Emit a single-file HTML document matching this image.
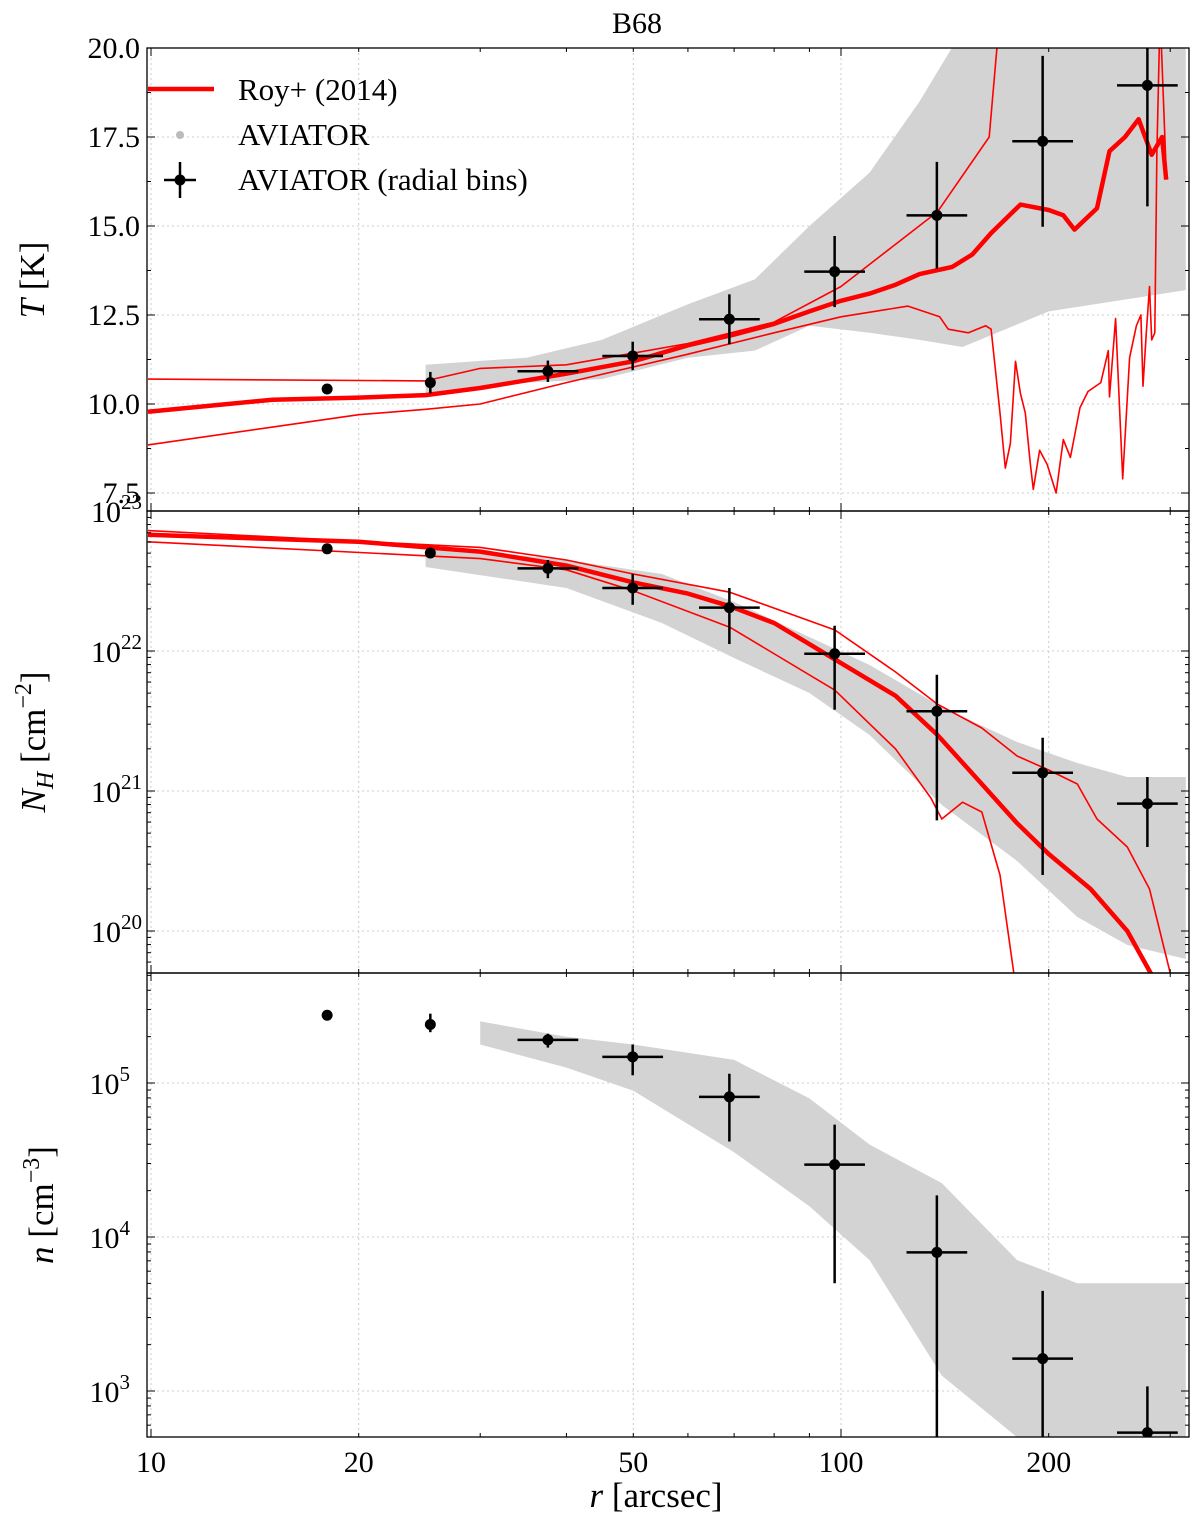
<!DOCTYPE html>
<html><head><meta charset="utf-8"><style>
body{margin:0;background:#fff}
svg text{font-family:"Liberation Serif",serif;fill:#000}
</style></head><body>
<svg id="c" width="1200" height="1524" viewBox="0 0 1200 1524" xmlns="http://www.w3.org/2000/svg">
<defs>
<clipPath id="cT"><rect x="147" y="48" width="1042" height="463"/></clipPath>
<clipPath id="cN"><rect x="147" y="511" width="1042" height="462"/></clipPath>
<clipPath id="cn"><rect x="147" y="973" width="1042" height="464"/></clipPath>
</defs>
<g id="root"></g>
</svg>
<script>
// ---- data ----
const binR=[18,25.4,37.6,49.9,68.9,97.9,137.7,196,278];
const binHasX=[0,0,1,1,1,1,1,1,1];
const binT=[10.42,10.6,10.92,11.35,12.38,13.72,15.3,17.38,18.95];
const binTlo=[10.42,10.3,10.62,10.95,11.68,12.72,13.8,14.98,15.55];
const binThi=[10.42,10.9,11.22,11.75,13.08,14.72,16.8,19.78,22.3];
const binN=[22.73,22.70,22.59,22.45,22.31,21.98,21.57,21.13,20.91];
const binNlo=[22.73,22.70,22.52,22.33,22.05,21.58,20.79,20.4,20.6];
const binNhi=[22.73,22.70,22.65,22.55,22.45,22.18,21.83,21.38,21.1];
const binD=[5.44,5.38,5.28,5.17,4.91,4.47,3.90,3.21,2.73];
const binDlo=[5.44,5.33,5.23,5.05,4.62,3.7,2.6,2.6,2.6];
const binDhi=[5.44,5.45,5.32,5.25,5.06,4.73,4.27,3.65,3.03];
const binXhalf=0.044;

const scR=[25,35,45,60,75,90,110,130,150,200,316];
const scTlo=[10.3,10.6,10.7,11.3,11.5,12.2,12.0,11.8,11.6,12.6,13.2];
const scThi=[11.1,11.3,11.8,12.8,13.5,15.0,16.5,18.5,20.5,20.5,20.5];
const scNR=[25,40,55,70,90,110,140,180,220,260,316];
const scNlo=[22.6,22.45,22.2,21.95,21.7,21.4,20.9,20.5,20.1,19.9,19.8];
const scNhi=[22.75,22.65,22.55,22.35,22.1,21.9,21.6,21.35,21.2,21.1,21.1];
const scDR=[30,40,50,70,90,110,140,180,220,316];
const scDlo=[5.25,5.1,4.95,4.55,4.2,3.85,3.1,2.7,2.6,2.6];
const scDhi=[5.4,5.3,5.25,5.15,4.9,4.6,4.35,3.85,3.7,3.7];

const royTR=[9.9,15,20,25,30,40,50,60,70,80,90,100,110,120,130,145,155,165,182,200,210,218,235,245,258,270,282,292,296];
const royT=[9.78,10.12,10.18,10.25,10.45,10.85,11.2,11.65,11.95,12.25,12.6,12.9,13.1,13.35,13.65,13.85,14.2,14.8,15.6,15.45,15.3,14.9,15.5,17.1,17.5,18.0,17.0,17.5,16.3];
const royTupR=[9.9,25,30,40,60,80,100,138,164,170,290,296];
const royTup=[10.7,10.65,11.0,11.1,11.7,12.3,13.3,15.4,17.5,21,21,16.5];
const royTloR=[9.9,15,20,25,30,40,60,80,100,125,139,143,153,162,165,170,173,176,179,182,185,188,190,194,199,205,210,215,222,228,238,244,245,250,256,262,268,272,274,277,280,282,285,287,290];
const royTlo=[8.85,9.35,9.7,9.85,10.0,10.6,11.4,12.0,12.45,12.75,12.45,12.1,12.0,12.2,12.1,9.75,8.2,8.9,11.2,10.3,9.75,8.35,7.6,8.7,8.3,7.5,9.0,8.5,9.9,10.35,10.6,11.5,10.2,12.4,7.9,11.3,12.2,12.5,10.5,12.0,13.3,11.8,12.0,17.1,21];
const royNR=[9.9,20,30,40,50,60,69,80,98,120,138,160,180,200,230,260,281,290];
const royN=[22.83,22.78,22.71,22.61,22.49,22.41,22.32,22.2,21.94,21.68,21.4,21.05,20.77,20.55,20.3,20.0,19.7,19.4];
const royNupR=[9.9,30,40,50,69,98,120,138,160,180,200,220,235,260,280,300,310];
const royNup=[22.86,22.74,22.65,22.55,22.42,22.15,21.85,21.62,21.45,21.25,21.15,21.05,20.8,20.6,20.3,19.7,19.3];
const royNloR=[9.9,30,40,50,69,98,120,135,140,150,160,170,178,185];
const royNlo=[22.78,22.66,22.58,22.43,22.17,21.72,21.3,20.95,20.8,20.92,20.85,20.4,19.7,19.2];

const tTicks=[7.5,10.0,12.5,15.0,17.5,20.0];
const xMajor=[10,20,50,100,200];

// ---- axes ----
const L=147,R=1189;
const X=r=>151+690*(Math.log10(r)-1);
const YT=v=>48+(20-v)*35.6;
const YN=v=>511+(23-v)*140;
const YD=v=>1083-(v-5)*154;
const NS="http://www.w3.org/2000/svg";
const root=document.getElementById('root');
function el(tag,attrs,parent){const e=document.createElementNS(NS,tag);for(const k in attrs)e.setAttribute(k,attrs[k]);(parent||root).appendChild(e);return e;}
function poly(rs,vs,Y){return rs.map((r,i)=>X(r).toFixed(1)+','+Y(vs[i]).toFixed(1)).join(' ');}

const panels=[{t:48,b:511,Y:YT,clip:'cT',name:'temperature'},{t:511,b:973,Y:YN,clip:'cN',name:'column-density'},{t:973,b:1437,Y:YD,clip:'cn',name:'volume-density'}];

panels.forEach(p=>{
  const g=el('g',{});
  
  
  xMajor.forEach(r=>el('line',{x1:X(r),x2:X(r),y1:p.t,y2:p.b,stroke:'#ccc','stroke-dasharray':'2,3','stroke-width':1},g));
});
tTicks.forEach(v=>el('line',{x1:L,x2:R,y1:YT(v),y2:YT(v),stroke:'#ccc','stroke-dasharray':'2,3'}));
[20,21,22].forEach(v=>el('line',{x1:L,x2:R,y1:YN(v),y2:YN(v),stroke:'#ccc','stroke-dasharray':'2,3'}));
[3,4,5].forEach(v=>el('line',{x1:L,x2:R,y1:YD(v),y2:YD(v),stroke:'#ccc','stroke-dasharray':'2,3'}));

function band(rs,lo,hi,Y,clip,name){
  const pts=poly(rs,lo,Y)+' '+poly(rs.slice().reverse(),hi.slice().reverse(),Y);
  const e=el('polygon',{points:pts,fill:'#d3d3d3','clip-path':'url(#'+clip+')'});
  
  
}
band(scR,scTlo,scThi,YT,'cT','aviator-scatter-temperature');
band(scNR,scNlo,scNhi,YN,'cN','aviator-scatter-column-density');
band(scDR,scDlo,scDhi,YD,'cn','aviator-scatter-volume-density');

function line(rs,vs,Y,clip,w,name){
  const e=el('polyline',{points:poly(rs,vs,Y),fill:'none',stroke:'#ff0000','stroke-width':w,'stroke-linejoin':'round','clip-path':'url(#'+clip+')'});
  
  
}
line(royTupR,royTup,YT,'cT',1.6,'roy-temperature-upper');
line(royTloR,royTlo,YT,'cT',1.6,'roy-temperature-lower');
line(royTR,royT,YT,'cT',4.5,'roy-temperature');
line(royNupR,royNup,YN,'cN',1.6,'roy-column-density-upper');
line(royNloR,royNlo,YN,'cN',1.6,'roy-column-density-lower');
line(royNR,royN,YN,'cN',4.5,'roy-column-density');

function bins(vals,lo,hi,Y,clip,name){
  binR.forEach((r,i)=>{
    const g=el('g',{'clip-path':'url(#'+clip+')'});
    
    
    const cx=X(r),cy=Y(vals[i]);
    el('line',{x1:cx,x2:cx,y1:Y(lo[i]),y2:Y(hi[i]),stroke:'#000','stroke-width':2.5},g);
    if(binHasX[i]) el('line',{x1:X(r*Math.pow(10,-binXhalf)),x2:X(r*Math.pow(10,binXhalf)),y1:cy,y2:cy,stroke:'#000','stroke-width':2.5},g);
    el('circle',{cx:cx,cy:cy,r:5.5,fill:'#000'},g);
  });
}
bins(binT,binTlo,binThi,YT,'cT','temperature');
bins(binN,binNlo,binNhi,YN,'cN','column-density');
bins(binD,binDlo,binDhi,YD,'cn','volume-density');

panels.forEach(p=>{
  const f=el('rect',{x:L,y:p.t,width:R-L,height:p.b-p.t,fill:'none',stroke:'#000','stroke-width':1.3});
  
  
  for(let d=1;d<=2;d++)for(let m=1;m<10;m++){
    const r=m*Math.pow(10,d);if(r>320)continue;
    const x=X(r);const len=(m===1)?8:4;
    el('line',{x1:x,x2:x,y1:p.b,y2:p.b-len,stroke:'#000','stroke-width':1});
    el('line',{x1:x,x2:x,y1:p.t,y2:p.t+len,stroke:'#000','stroke-width':1});
  }
});
function ytick(y,len){el('line',{x1:L,x2:L+len,y1:y,y2:y,stroke:'#000'});el('line',{x1:R,x2:R-len,y1:y,y2:y,stroke:'#000'});}
tTicks.forEach(v=>ytick(YT(v),8));
[8.75,11.25,13.75,16.25,18.75].forEach(v=>ytick(YT(v),4));
for(let d=19;d<=22;d++)for(let m=1;m<10;m++){const v=d+Math.log10(m);if(v<19.7||v>23)continue;ytick(YN(v),m===1?8:4);}
ytick(YN(23),8);
for(let d=2;d<=5;d++)for(let m=1;m<10;m++){const v=d+Math.log10(m);if(v<2.7||v>5.71)continue;ytick(YD(v),m===1?8:4);}

function txt(x,y,s,size,anchor,name){const t=el('text',{x:x,y:y,'font-size':size,'text-anchor':anchor||'middle'});t.textContent=s;return t;}
tTicks.forEach(v=>txt(140,YT(v)+10,v.toFixed(1),30,'end','y-tick-temperature'));
function pow(x,y,e,name){const t=el('text',{x:x,y:y,'font-size':30,'text-anchor':'end'});
  const a=el('tspan',{},t);a.textContent='10';const b=el('tspan',{dy:-13,'font-size':21},t);b.textContent=e;}
[23,22,21,20].forEach(v=>pow(142,YN(v)+11,String(v),'y-tick-column-density'));
[5,4,3].forEach(v=>pow(130,YD(v)+11,String(v),'y-tick-volume-density'));
xMajor.forEach(r=>txt(X(r),1472,String(r),30,'middle','x-tick-label'));

txt(637,33,'B68',30,'middle','chart-title');
let t=el('text',{x:656,y:1507,'font-size':35,'text-anchor':'middle'});
t.innerHTML='<tspan font-style="italic">r</tspan> [arcsec]';
t=el('text',{x:0,y:0,'font-size':35,'text-anchor':'middle',transform:'translate(44,280) rotate(-90)'});
t.innerHTML='<tspan font-style="italic">T</tspan> [K]';
t=el('text',{x:0,y:0,'font-size':35,'text-anchor':'middle',transform:'translate(45,742) rotate(-90)'});
t.innerHTML='<tspan font-style="italic">N</tspan><tspan font-style="italic" font-size="24" dy="8">H</tspan><tspan dy="-8"> [cm</tspan><tspan font-size="24" dy="-14">−2</tspan><tspan dy="14">]</tspan>';
t=el('text',{x:0,y:0,'font-size':35,'text-anchor':'middle',transform:'translate(53,1205) rotate(-90)'});
t.innerHTML='<tspan font-style="italic">n</tspan> [cm<tspan font-size="24" dy="-14">−3</tspan><tspan dy="14">]</tspan>';

const lg=el('g',{});
el('line',{x1:148,x2:214,y1:89,y2:89,stroke:'#ff0000','stroke-width':4.5},lg);
el('circle',{cx:180,cy:135,r:4,fill:'#bbb'},lg);
el('line',{x1:180,x2:180,y1:162,y2:198,stroke:'#000','stroke-width':2.5},lg);
el('line',{x1:164,x2:196,y1:180,y2:180,stroke:'#000','stroke-width':2.5},lg);
el('circle',{cx:180,cy:180,r:5.5,fill:'#000'},lg);
txt(238,100,'Roy+ (2014)',31,'start','legend-entry-roy');
txt(238,145,'AVIATOR',31,'start','legend-entry-aviator');
txt(238,190,'AVIATOR (radial bins)',31,'start','legend-entry-aviator-bins');
</script>
</body></html>
